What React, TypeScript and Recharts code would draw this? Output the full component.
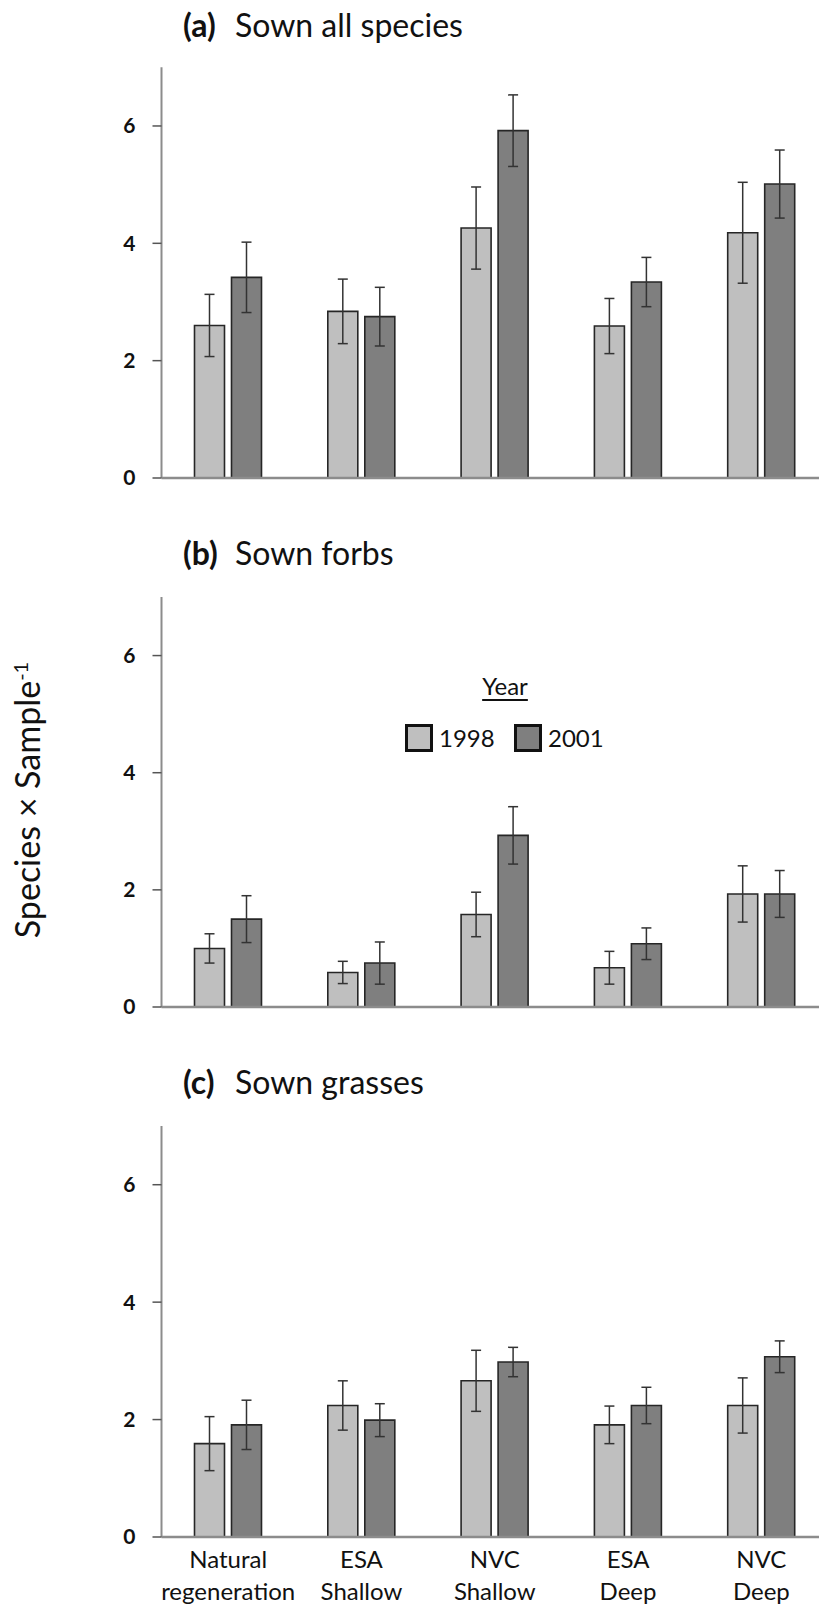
import { Bar, BarChart, ErrorBar, Legend, XAxis, YAxis } from 'recharts';

const FONT = 'Lato, "Open Sans", sans-serif';

const categories = ['Natural regeneration', 'ESA Shallow', 'NVC Shallow', 'ESA Deep', 'NVC Deep'];
const categoryLines: Record<string, string[]> = {
  'Natural regeneration': ['Natural', 'regeneration'],
  'ESA Shallow': ['ESA', 'Shallow'],
  'NVC Shallow': ['NVC', 'Shallow'],
  'ESA Deep': ['ESA', 'Deep'],
  'NVC Deep': ['NVC', 'Deep'],
};
const years = ['1998', '2001'];

// (a) sown all species
const allMean1998 = [2.6, 2.84, 4.26, 2.59, 4.18];
const allErr1998 = [0.53, 0.55, 0.7, 0.47, 0.86];
const allMean2001 = [3.42, 2.75, 5.92, 3.34, 5.01];
const allErr2001 = [0.6, 0.5, 0.61, 0.42, 0.58];

// (b) sown forbs
const forbMean1998 = [1.0, 0.59, 1.58, 0.67, 1.93];
const forbErr1998 = [0.25, 0.19, 0.38, 0.28, 0.48];
const forbMean2001 = [1.5, 0.75, 2.93, 1.08, 1.93];
const forbErr2001 = [0.4, 0.36, 0.49, 0.27, 0.4];

// (c) sown grasses
const grassMean1998 = [1.59, 2.24, 2.66, 1.91, 2.24];
const grassErr1998 = [0.46, 0.42, 0.52, 0.32, 0.47];
const grassMean2001 = [1.91, 1.99, 2.98, 2.24, 3.07];
const grassErr2001 = [0.42, 0.28, 0.25, 0.31, 0.27];

const yTicks = [0, 2, 4, 6];

const LIGHT = '#bfbfbf';
const DARK = '#7f7f7f';

function rows(m98: number[], e98: number[], m01: number[], e01: number[]) {
  return categories.map((cat, i) => ({ cat, m98: m98[i], e98: e98[i], m01: m01[i], e01: e01[i] }));
}

function CategoryTick({ x, y, payload }: any) {
  const lines = categoryLines[payload.value] ?? [payload.value];
  return (
    <text x={x} y={y} textAnchor="middle" fontFamily={FONT} fontSize={24} fill="#111">
      {lines.map((l, i) => (
        <tspan key={l} x={x} dy={i === 0 ? 31 : 32}>
          {l}
        </tspan>
      ))}
    </text>
  );
}

function YearLegend({ payload }: any) {
  const items = payload ?? [];
  return (
    <div style={{ position: 'relative', width: 240, height: 100, fontFamily: FONT, color: '#111' }}>
      <div
        style={{
          position: 'absolute',
          left: 0,
          width: 250,
          top: 12,
          textAlign: 'center',
          fontSize: 24,
          lineHeight: '28px',
          textDecoration: 'underline',
          textUnderlineOffset: 4,
        }}
      >
        Year
      </div>
      {items.map((it: any, i: number) => (
        <div key={it.value} style={{ position: 'absolute', left: 25 + i * 109, top: 64, display: 'flex', alignItems: 'center' }}>
          <span
            style={{
              display: 'inline-block',
              width: 28,
              height: 28,
              boxSizing: 'border-box',
              border: '3px solid #111',
              background: it.color,
            }}
          />
          <span style={{ fontSize: 24, marginLeft: 6, lineHeight: '28px' }}>{it.value}</span>
        </div>
      ))}
    </div>
  );
}

function Panel({
  data,
  top,
  height,
  marginTop,
  marginBottom,
  xLabels,
  legend,
}: {
  data: ReturnType<typeof rows>;
  top: number;
  height: number;
  marginTop: number;
  marginBottom: number;
  xLabels?: boolean;
  legend?: boolean;
}) {
  return (
    <div style={{ position: 'absolute', left: 0, top }}>
      <BarChart
        width={830}
        height={height}
        data={data}
        barGap={7}
        margin={{ top: marginTop, right: 2, bottom: marginBottom, left: 101.5 }}
      >
        <XAxis
          dataKey="cat"
          interval={0}
          tickLine={false}
          tickSize={0}
          tickMargin={0}
          height={xLabels ? 60 : 20}
          tick={xLabels ? <CategoryTick /> : false}
          axisLine={{ stroke: '#8c8c8c', strokeWidth: 2.5 }}
        />
        <YAxis
          domain={[0, 7]}
          ticks={yTicks}
          width={60}
          tickSize={9}
          tickMargin={17}
          axisLine={{ stroke: '#8c8c8c', strokeWidth: 2 }}
          tickLine={{ stroke: '#555', strokeWidth: 1.5 }}
          tick={{ fill: '#111', fontSize: 21, fontWeight: 700, fontFamily: FONT }}
        />
        {legend && (
          <Legend
            layout="vertical"
            align="center"
            verticalAlign="middle"
            wrapperStyle={{ left: 380, top: 140, width: 240, height: 100 }}
            content={<YearLegend />}
          />
        )}
        <Bar dataKey="m98" name={years[0]} fill={LIGHT} stroke="#262626" strokeWidth={1.6} barSize={30} isAnimationActive={false}>
          <ErrorBar dataKey="e98" direction="y" width={5} stroke="#333" strokeWidth={1.5} isAnimationActive={false} />
        </Bar>
        <Bar dataKey="m01" name={years[1]} fill={DARK} stroke="#262626" strokeWidth={1.6} barSize={30} isAnimationActive={false}>
          <ErrorBar dataKey="e01" direction="y" width={5} stroke="#333" strokeWidth={1.5} isAnimationActive={false} />
        </Bar>
      </BarChart>
    </div>
  );
}

function Title({ letter, text, y }: { letter: string; text: string; y: number }) {
  return (
    <text y={y} fontFamily={FONT} fontSize={32} fill="#111">
      <tspan x={183} fontWeight={700}>
        ({letter})
      </tspan>
      <tspan x={235}>{text}</tspan>
    </text>
  );
}

export default function App() {
  return (
    <div style={{ position: 'absolute', left: 0, top: 0, width: 819, height: 1608, overflow: 'hidden', background: '#fff' }}>
      <Panel data={rows(allMean1998, allErr1998, allMean2001, allErr2001)} top={0} height={520} marginTop={67.3} marginBottom={22} />
      <Panel data={rows(forbMean1998, forbErr1998, forbMean2001, forbErr2001)} top={520} height={520} marginTop={77} marginBottom={13} legend />
      <Panel data={rows(grassMean1998, grassErr1998, grassMean2001, grassErr2001)} top={1040} height={568} marginTop={86} marginBottom={11} xLabels />
      <svg width={819} height={1608} style={{ position: 'absolute', left: 0, top: 0, pointerEvents: 'none' }}>
        <Title letter="a" text="Sown all species" y={37} />
        <Title letter="b" text="Sown forbs" y={565} />
        <Title letter="c" text="Sown grasses" y={1094} />
        <text transform="translate(40,800) rotate(-90)" textAnchor="middle" fontFamily={FONT} fontSize={34} fill="#111">
          Species × Sample
          <tspan dy={-12} fontSize={20}>
            -1
          </tspan>
        </text>
      </svg>
    </div>
  );
}
